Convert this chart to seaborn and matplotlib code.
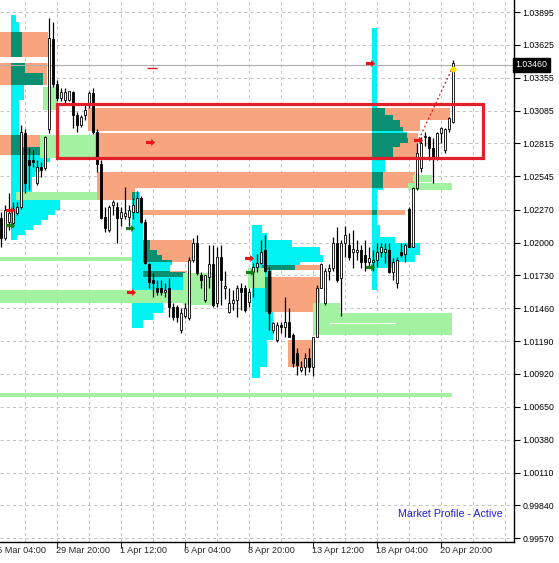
import matplotlib
matplotlib.use("Agg")
import matplotlib.pyplot as plt
import matplotlib.transforms as mtransforms
from matplotlib.patches import Rectangle
from matplotlib.path import Path
import pandas as pd
import seaborn as sns

# ---- candles (H4 bars, index = bar number) ----
OPEN = [1.0220, 1.0204, 1.0217, 1.0216, 1.0224, 1.0229, 1.0290, 1.0268, 1.0268, 1.0249,
        1.0262, 1.0261, 1.0293, 1.0367, 1.0330, 1.0319, 1.0317, 1.0317, 1.0324, 1.0305,
        1.0297, 1.0305, 1.0313, 1.0323, 1.0291, 1.0265, 1.0221, 1.0210, 1.0231, 1.0229,
        1.0220, 1.0222, 1.0221, 1.0225, 1.0225, 1.0237, 1.0217, 1.0182, 1.0169, 1.0163,
        1.0163, 1.0159, 1.0163, 1.0147, 1.0147, 1.0128, 1.0140, 1.0138, 1.0186, 1.0200,
        1.0173, 1.0153, 1.0172, 1.0182, 1.0150, 1.0188, 1.0163, 1.0143, 1.0150, 1.0153,
        1.0163, 1.0163, 1.0151, 1.0176, 1.0180, 1.0183, 1.0194, 1.0177, 1.0128, 1.0120,
        1.0132, 1.0131, 1.0135, 1.0124, 1.0109, 1.0095, 1.0098, 1.0105, 1.0098, 1.0122,
        1.0163, 1.0150, 1.0177, 1.0179, 1.0200, 1.0171, 1.0200, 1.0198, 1.0192, 1.0192,
        1.0194, 1.0190, 1.0184, 1.0184, 1.0186, 1.0192, 1.0192, 1.0194, 1.0176, 1.0167,
        1.0192, 1.0191, 1.0228, 1.0196, 1.0245, 1.0261, 1.0287, 1.0287, 1.0278, 1.0270,
        1.0290, 1.0276, 1.0293, 1.0299]
HIGH = [1.0225, 1.0231, 1.0241, 1.0233, 1.0233, 1.0297, 1.0293, 1.0278, 1.0276, 1.0268,
        1.0266, 1.0288, 1.0385, 1.0381, 1.0334, 1.0327, 1.0327, 1.0325, 1.0325, 1.0307,
        1.0305, 1.0313, 1.0325, 1.0327, 1.0293, 1.0268, 1.0229, 1.0231, 1.0235, 1.0233,
        1.0229, 1.0246, 1.0231, 1.0237, 1.0242, 1.0238, 1.0219, 1.0183, 1.0175, 1.0169,
        1.0169, 1.0167, 1.0171, 1.0150, 1.0149, 1.0146, 1.0150, 1.0188, 1.0204, 1.0206,
        1.0176, 1.0173, 1.0198, 1.0198, 1.0196, 1.0198, 1.0177, 1.0163, 1.0161, 1.0165,
        1.0167, 1.0165, 1.0163, 1.0183, 1.0191, 1.0202, 1.0206, 1.0180, 1.0135, 1.0135,
        1.0135, 1.0155, 1.0146, 1.0126, 1.0113, 1.0103, 1.0109, 1.0113, 1.0122, 1.0165,
        1.0183, 1.0179, 1.0182, 1.0205, 1.0213, 1.0202, 1.0214, 1.0208, 1.0210, 1.0202,
        1.0198, 1.0202, 1.0196, 1.0194, 1.0200, 1.0200, 1.0200, 1.0200, 1.0187, 1.0188,
        1.0200, 1.0200, 1.0229, 1.0246, 1.0282, 1.0287, 1.0291, 1.0288, 1.0286, 1.0291,
        1.0295, 1.0294, 1.0303, 1.0350]
LOW = [1.0196, 1.0202, 1.0210, 1.0213, 1.0223, 1.0228, 1.0241, 1.0243, 1.0262, 1.0247,
       1.0254, 1.0260, 1.0290, 1.0328, 1.0316, 1.0316, 1.0315, 1.0316, 1.0294, 1.0291,
       1.0295, 1.0301, 1.0311, 1.0289, 1.0258, 1.0219, 1.0209, 1.0209, 1.0223, 1.0200,
       1.0214, 1.0219, 1.0214, 1.0219, 1.0224, 1.0216, 1.0182, 1.0163, 1.0155, 1.0157,
       1.0157, 1.0155, 1.0139, 1.0136, 1.0135, 1.0126, 1.0138, 1.0136, 1.0184, 1.0173,
       1.0163, 1.0151, 1.0163, 1.0147, 1.0147, 1.0149, 1.0154, 1.0142, 1.0145, 1.0139,
       1.0145, 1.0143, 1.0147, 1.0155, 1.0176, 1.0182, 1.0176, 1.0128, 1.0126, 1.0118,
       1.0126, 1.0122, 1.0122, 1.0098, 1.0091, 1.0094, 1.0091, 1.0094, 1.0090, 1.0122,
       1.0163, 1.0149, 1.0169, 1.0177, 1.0168, 1.0140, 1.0188, 1.0186, 1.0179, 1.0186,
       1.0179, 1.0177, 1.0179, 1.0177, 1.0180, 1.0188, 1.0183, 1.0175, 1.0169, 1.0163,
       1.0188, 1.0184, 1.0196, 1.0196, 1.0243, 1.0258, 1.0279, 1.0268, 1.0249, 1.0268,
       1.0282, 1.0274, 1.0291, 1.0298]
CLOSE = [1.0204, 1.0227, 1.0224, 1.0228, 1.0229, 1.0291, 1.0249, 1.0264, 1.0266, 1.0262,
         1.0260, 1.0287, 1.0368, 1.0330, 1.0319, 1.0324, 1.0324, 1.0325, 1.0305, 1.0297,
         1.0303, 1.0309, 1.0323, 1.0291, 1.0265, 1.0220, 1.0212, 1.0229, 1.0233, 1.0220,
         1.0225, 1.0224, 1.0227, 1.0231, 1.0237, 1.0217, 1.0183, 1.0168, 1.0167, 1.0159,
         1.0159, 1.0161, 1.0147, 1.0139, 1.0139, 1.0142, 1.0146, 1.0186, 1.0200, 1.0175,
         1.0169, 1.0173, 1.0182, 1.0149, 1.0188, 1.0169, 1.0164, 1.0150, 1.0153, 1.0163,
         1.0159, 1.0145, 1.0159, 1.0180, 1.0183, 1.0192, 1.0177, 1.0142, 1.0134, 1.0132,
         1.0131, 1.0135, 1.0122, 1.0101, 1.0099, 1.0098, 1.0105, 1.0098, 1.0122, 1.0163,
         1.0182, 1.0177, 1.0179, 1.0200, 1.0169, 1.0200, 1.0206, 1.0188, 1.0195, 1.0194,
         1.0184, 1.0184, 1.0187, 1.0186, 1.0192, 1.0196, 1.0195, 1.0176, 1.0184, 1.0186,
         1.0190, 1.0198, 1.0196, 1.0245, 1.0274, 1.0282, 1.0288, 1.0278, 1.0270, 1.0290,
         1.0294, 1.0293, 1.0302, 1.0348]

# ---- market profile sessions: start bar and rows (price top, price bottom, right bar) ----
SESSION_START = [2.5, 32.75, 62.75, 92.75]
PROFILE_1 = [(1.03871, 1.03813, 3.75), (1.03813, 1.03731, 4.5), (1.03731, 1.03526, 5.25),
             (1.03476, 1.03394, 6.0), (1.03394, 1.03295, 10.5), (1.03295, 1.03172, 5.75),
             (1.03172, 1.02884, 4.5), (1.02884, 1.02786, 4.75), (1.02786, 1.02745, 14.75),
             (1.02745, 1.02704, 13.5), (1.02704, 1.02662, 12.25), (1.02662, 1.02621, 11.0),
             (1.02621, 1.02580, 9.75), (1.02580, 1.02539, 8.5), (1.02539, 1.02391, 7.75),
             (1.02391, 1.02350, 4.0), (1.02350, 1.02268, 14.75), (1.02268, 1.02227, 13.5),
             (1.02227, 1.02186, 11.75), (1.02186, 1.02145, 10.0), (1.02145, 1.02103, 8.0),
             (1.02103, 1.02062, 6.0), (1.02062, 1.02021, 4.0)]
PROFILE_2 = [(1.02416, 1.02350, 34.75), (1.02350, 1.02021, 35.5), (1.02021, 1.01939, 37.25),
             (1.01939, 1.01898, 39.0), (1.01898, 1.01857, 40.25), (1.01857, 1.01816, 42.75),
             (1.01816, 1.01758, 42.25), (1.01758, 1.01610, 46.0), (1.01610, 1.01421, 40.5),
             (1.01421, 1.01364, 38.0), (1.01364, 1.01298, 35.5)]
PROFILE_3 = [(1.02145, 1.02079, 65.25), (1.02079, 1.02021, 66.5), (1.02021, 1.01964, 72.75),
             (1.01964, 1.01898, 79.75), (1.01898, 1.01840, 80.5), (1.01840, 1.01816, 74.75),
             (1.01816, 1.01775, 73.5), (1.01775, 1.01429, 67.75), (1.01429, 1.01199, 68.0),
             (1.01199, 1.00977, 66.5), (1.00977, 1.00887, 64.75)]
PROFILE_4 = [(1.03764, 1.03106, 94.0), (1.03106, 1.03049, 96.0), (1.03049, 1.03008, 98.0),
             (1.03008, 1.02950, 99.75), (1.02950, 1.02909, 100.5), (1.02909, 1.02860, 101.5),
             (1.02860, 1.02819, 101.75), (1.02819, 1.02786, 99.75), (1.02786, 1.02695, 98.0),
             (1.02695, 1.02580, 96.0), (1.02580, 1.02432, 95.5), (1.02432, 1.02145, 94.0),
             (1.02145, 1.02046, 94.75), (1.02046, 1.01997, 98.5), (1.01997, 1.01898, 104.75),
             (1.01898, 1.01840, 103.5), (1.01840, 1.01791, 98.5), (1.01791, 1.01610, 94.0)]

# value-area rays (top, bottom, left bar, right bar)
SALMON_RAYS = [(1.03731, 1.03526, -0.25, 11.75), (1.03476, 1.03295, -0.25, 11.5),
               (1.02884, 1.02720, -0.25, 9.75), (1.03106, 1.03008, 21.75, 112.25),
               (1.03008, 1.02917, 21.75, 104.75), (1.02901, 1.02695, 23.5, 104.25),
               (1.02580, 1.02449, 24.0, 103.5), (1.02449, 1.02350, 24.0, 33.5),
               (1.02268, 1.02227, 34.75, 101.0), (1.02021, 1.01840, 35.5, 47.75),
               (1.01766, 1.01717, 35.5, 46.5), (1.01816, 1.01775, 65.25, 80.25),
               (1.01717, 1.01429, 66.0, 79.75), (1.01199, 1.00977, 71.75, 77.75)]
GREEN_RAYS = [(1.03279, 1.03090, 10.5, 14.0), (1.02884, 1.02695, 9.75, 23.5),
              (1.02416, 1.02350, 3.75, 24.0), (1.01881, 1.01849, -0.25, 32.75),
              (1.01610, 1.01503, -0.25, 52.25), (1.00764, 1.00731, -0.25, 112.75),
              (1.01421, 1.01240, 78.0, 112.75), (1.01503, 1.01421, 78.0, 84.75),
              (1.02556, 1.02498, 103.0, 107.75), (1.02490, 1.02432, 101.75, 112.75),
              (1.01791, 1.01627, 61.75, 66.0), (1.01750, 1.01487, 45.5, 52.75)]
WHITE_RAYS = [(1.01339, 82.0, 98.5)]

# trade arrows (bar, price)
RED_ARROWS = [(2.25, 1.02268), (37.25, 1.02827), (32.5, 1.01594), (62.0, 1.01873),
              (92.25, 1.03476), (104.25, 1.02843)]
GREEN_ARROWS = [(2.25, 1.02145), (32.25, 1.02120), (62.25, 1.01758), (92.25, 1.01799)]
TRADE_LINE = [(104.5, 1.0285), (112.75, 1.0343)]
ZONE = (14.0, 1.03139, 120.5, 1.02695)
LAST_PRICE = 1.03460

PRICE_TICKS = [0.99570, 0.99840, 1.00110, 1.00380, 1.00650, 1.00920, 1.01190, 1.01460,
               1.01730, 1.02000, 1.02270, 1.02545, 1.02815, 1.03085, 1.03355, 1.03625, 1.03895]
DATE_TICKS = [-2, 14, 30, 46, 62, 78, 94, 110]
DATE_LABELS = ["25 Mar 04:00", "29 Mar 20:00", "1 Apr 12:00", "6 Apr 04:00",
               "8 Apr 20:00", "13 Apr 12:00", "18 Apr 04:00", "20 Apr 20:00"]

CYAN = "#00f2f2"
TEAL = "#0b8f72"
SALMON = "#f8a47f"
GREEN = "#a2f2a2"
GRID = "#c4c4c4"


def rects_from_profile(start, rows):
    return [(top, bottom, start, right) for top, bottom, right in rows]


def draw_rects(ax, rects, color, z):
    for top, bottom, left, right in rects:
        ax.barh(bottom, right - left, left=left, height=top - bottom, align="edge",
                color=color, linewidth=0, zorder=z)


def overlap(a, b):
    top, bottom = min(a[0], b[0]), max(a[1], b[1])
    left, right = max(a[2], b[2]), min(a[3], b[3])
    if top > bottom and right > left:
        return (top, bottom, left, right)
    return None


sns.set_theme(style="white")
plt.rcParams["font.family"] = ["Liberation Sans", "DejaVu Sans"]

fig = plt.figure(figsize=(5.59, 5.63), dpi=100)
ax = fig.add_axes([0, 21 / 563, 514 / 559, 542 / 563])
ax.set_xlim(-0.25, 128.25)
ax.set_ylim(0.99539, 1.03994)

# grid: every price tick and every 8 bars
for y in PRICE_TICKS:
    ax.axhline(y, color=GRID, lw=0.75, ls=(0, (3, 3)), zorder=0.5)
for gx in range(6, 129, 8):
    ax.axvline(gx, color=GRID, lw=0.75, ls=(0, (3, 3)), zorder=0.5)

# profiles
profiles = [PROFILE_1, PROFILE_2, PROFILE_3, PROFILE_4]
cyan_rects = []
for start, rows in zip(SESSION_START, profiles):
    cyan_rects += rects_from_profile(start, rows)
teal_rects = [r for c in cyan_rects for s in SALMON_RAYS if (r := overlap(c, s))]

draw_rects(ax, SALMON_RAYS, SALMON, 1)
draw_rects(ax, cyan_rects, CYAN, 2)
draw_rects(ax, teal_rects, TEAL, 3)
draw_rects(ax, GREEN_RAYS, GREEN, 4)
for y, x0, x1 in WHITE_RAYS:
    ax.hlines(y, x0, x1, color="white", lw=0.8, zorder=4.5)

# last price line
ax.axhline(LAST_PRICE, color="#b0b0b0", lw=0.8, zorder=4.6)

# candles
bars = pd.DataFrame({"open": OPEN, "high": HIGH, "low": LOW, "close": CLOSE})
bars["x"] = range(len(bars))
ax.vlines(bars["x"], bars["low"], bars["high"], color="black", lw=0.9, zorder=5)
up = bars["close"] >= bars["open"]
body_lo = bars[["open", "close"]].min(axis=1)
body_h = (bars["close"] - bars["open"]).abs()
ax.bar(bars["x"], body_h, bottom=body_lo, width=0.62,
       color=["white" if u else "black" for u in up], edgecolor="black", lw=0.6, zorder=6)

# zone rectangle
x0, y0, x1, y1 = ZONE
ax.add_patch(Rectangle((x0, y1), x1 - x0, y0 - y1, fill=False, edgecolor="#e0202a",
                       lw=2.3, zorder=7))

# trade markers
arrow = Path([(-1, -0.35), (0.15, -0.35), (0.15, -0.8), (1, 0), (0.15, 0.8),
              (0.15, 0.35), (-1, 0.35), (-1, -0.35)])
red_df = pd.DataFrame(RED_ARROWS, columns=["bar", "price"])
green_df = pd.DataFrame(GREEN_ARROWS, columns=["bar", "price"])
sns.scatterplot(data=red_df, x="bar", y="price", marker=arrow, s=42, color="#e8141c",
                linewidth=0, ax=ax, zorder=8)
sns.scatterplot(data=green_df, x="bar", y="price", marker=arrow, s=42, color="#1a7a1a",
                linewidth=0, ax=ax, zorder=8)
ax.hlines(1.03435, 36.6, 38.9, color="#e8141c", lw=1.0, zorder=8)
(tx0, ty0), (tx1, ty1) = TRADE_LINE
ax.plot([tx0, tx1], [ty0, ty1], color="#e8141c", lw=0.9, ls=(0, (1.5, 2)), zorder=8)
ax.scatter([tx1 + 0.25], [ty1], marker="D", s=14, color="#ffe000", linewidth=0, zorder=9)

# axes styling
ax.set_xlabel("")
ax.set_ylabel("")
for side in ["left", "top"]:
    ax.spines[side].set_visible(False)
for side in ["right", "bottom"]:
    ax.spines[side].set_color("black")
    ax.spines[side].set_linewidth(1.0)
ax.yaxis.tick_right()
ax.set_yticks(PRICE_TICKS)
ax.set_yticklabels([f"{t:.5f}" for t in PRICE_TICKS], fontsize=6.3)
ax.tick_params(axis="y", length=4, width=0.8, pad=2, colors="black", right=True, left=False)
ax.set_xticks(DATE_TICKS[1:])
ax.set_xticklabels([])
ax.tick_params(axis="x", length=4, width=0.8, bottom=True)

trans = mtransforms.blended_transform_factory(ax.transData, ax.transAxes)
for pos, lab in zip(DATE_TICKS, DATE_LABELS):
    ax.text(pos - 0.3, -0.008, lab, transform=trans, ha="left", va="top",
            fontsize=6.6, clip_on=False)

ax.text(1.003, LAST_PRICE, "1.03460",
        transform=mtransforms.blended_transform_factory(ax.transAxes, ax.transData),
        ha="left", va="center", fontsize=6.3, color="white", zorder=10,
        bbox=dict(boxstyle="square,pad=0.25", fc="black", ec="black"), clip_on=False)

ax.text(0.979, 0.052, "Market Profile - Active", transform=ax.transAxes,
        ha="right", va="center", fontsize=7.7, color="#1f1fd0", zorder=10)

fig.savefig("out.png", dpi=100)
